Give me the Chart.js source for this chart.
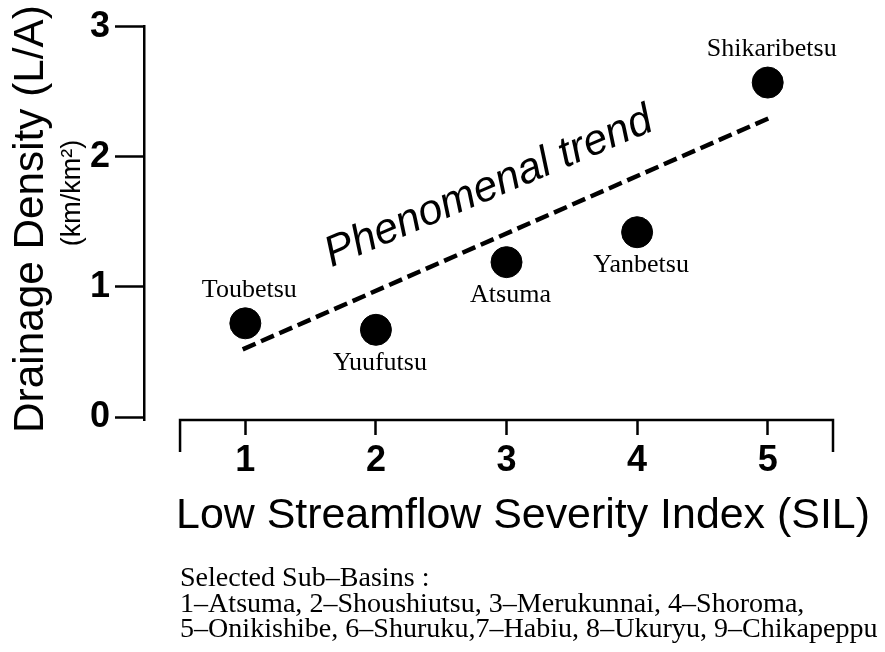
<!DOCTYPE html>
<html>
<head>
  <title>Drainage Density vs Low Streamflow Severity Index</title>
  <style>
    html, body { margin: 0; padding: 0; background: #fff; }
    #wrap { width: 885px; height: 652px; position: relative; }
  </style>
</head>
<body>
  <div id="wrap"><canvas id="chart"></canvas></div>

  <script src="https://cdn.jsdelivr.net/npm/chart.js@4.4.0/dist/chart.umd.min.js"></script>
  <script>
    // data
    var basins = ['Toubetsu', 'Yuufutsu', 'Atsuma', 'Yanbetsu', 'Shikaribetsu'];
    var sil = [1, 2, 3, 4, 5];
    var density = [0.72, 0.67, 1.19, 1.42, 2.57];
    var trendX = [0.98, 5.04];
    var trendY = [0.52, 2.31];
    var xTicks = [1, 2, 3, 4, 5];
    var yTicks = [0, 1, 2, 3];
    var xRange = [0.5, 5.5];
    var notes = [
      'Selected Sub\u2013Basins :',
      '1\u2013Atsuma, 2\u2013Shoushiutsu, 3\u2013Merukunnai, 4\u2013Shoroma,',
      '5\u2013Onikishibe, 6\u2013Shuruku,7\u2013Habiu, 8\u2013Ukuryu, 9\u2013Chikapeppu'
    ];

    var SANS = '"Liberation Sans", Arial, Helvetica, sans-serif';
    var SERIF = '"Liberation Serif", "Times New Roman", serif';

    // font size so that text is roughly targetWidth wide
    function fitFont(ctx, text, style, family, target) {
      ctx.font = style + ' 100px ' + family;
      var w = ctx.measureText(text).width;
      return 100 * target / w;
    }

    var extras = {
      id: 'extras',
      afterDraw: function(chart) {
        var ctx = chart.ctx, a = chart.chartArea;
        var xs = chart.scales.x, ys = chart.scales.y;
        ctx.save();
        ctx.fillStyle = '#000';
        ctx.strokeStyle = '#000';

        // x axis bracket
        var x0 = xs.getPixelForValue(xRange[0]), x1 = xs.getPixelForValue(xRange[1]);
        ctx.lineWidth = 2.5;
        ctx.beginPath();
        ctx.moveTo(x0, a.bottom + 32);
        ctx.lineTo(x0, a.bottom);
        ctx.lineTo(x1, a.bottom);
        ctx.lineTo(x1, a.bottom + 32);
        ctx.stroke();

        // y axis title (two lines)
        var t1 = 'Drainage Density (L/A)';
        ctx.save();
        ctx.translate(43, 219);
        ctx.rotate(-Math.PI / 2);
        ctx.font = fitFont(ctx, t1, 'normal', SANS, 428) + 'px ' + SANS;
        ctx.textAlign = 'center';
        ctx.textBaseline = 'alphabetic';
        ctx.fillText(t1, 0, 0);
        ctx.restore();

        var t2 = '(km/km\u00b2)';
        ctx.save();
        ctx.translate(80, 193);
        ctx.rotate(-Math.PI / 2);
        ctx.font = Math.min(27, fitFont(ctx, t2, 'normal', SANS, 108)) + 'px ' + SANS;
        ctx.textAlign = 'center';
        ctx.fillText(t2, 0, 0);
        ctx.restore();

        // x axis title
        var t3 = 'Low Streamflow Severity Index (SIL)';
        ctx.font = fitFont(ctx, t3, 'normal', SANS, 694) + 'px ' + SANS;
        ctx.textAlign = 'center';
        ctx.textBaseline = 'alphabetic';
        ctx.fillText(t3, 523, 528);

        // trend annotation
        var t4 = 'Phenomenal trend';
        ctx.save();
        ctx.translate(xs.getPixelForValue(2.9), ys.getPixelForValue(1.68));
        ctx.rotate(-23 * Math.PI / 180);
        ctx.font = 'italic ' + fitFont(ctx, t4, 'italic', SANS, 352) + 'px ' + SANS;
        ctx.textAlign = 'center';
        ctx.fillText(t4, 0, 0);
        ctx.restore();

        // point labels
        var side = ['above', 'below', 'below', 'below', 'above'];
        var meta = chart.getDatasetMeta(1);
        ctx.font = '26px ' + SERIF;
        ctx.textAlign = 'center';
        ctx.textBaseline = 'middle';
        meta.data.forEach(function(pt, i) {
          var dy = side[i] === 'above' ? -33 : 33;
          ctx.fillText(basins[i], pt.x + 4, pt.y + dy);
        });

        // notes below the chart
        var fs = fitFont(ctx, notes[2], 'normal', SERIF, 698);
        ctx.font = fs + 'px ' + SERIF;
        ctx.textAlign = 'left';
        ctx.textBaseline = 'alphabetic';
        var base = [586, 612, 637];
        notes.forEach(function(line, i) {
          ctx.fillText(line, 180, base[i]);
        });

        ctx.restore();
      }
    };

    var points = sil.map(function(v, i) { return { x: v, y: density[i] }; });
    var trend = trendX.map(function(v, i) { return { x: v, y: trendY[i] }; });

    new Chart(document.getElementById('chart'), {
      type: 'scatter',
      data: {
        datasets: [{
          type: 'line',
          label: 'Phenomenal trend',
          data: trend,
          borderColor: '#000',
          borderWidth: 4.5,
          borderDash: [14, 6],
          pointRadius: 0,
          fill: false,
          clip: false
        }, {
          label: 'Sub-basins',
          data: points,
          backgroundColor: '#000',
          borderColor: '#000',
          pointRadius: 15.5,
          pointHoverRadius: 15.5,
          clip: false
        }]
      },
      options: {
        responsive: true,
        maintainAspectRatio: false,
        devicePixelRatio: 1,
        animation: false,
        events: [],
        layout: { padding: { top: 25, right: 52, left: 0, bottom: 0 } },
        plugins: {
          legend: { display: false },
          tooltip: { enabled: false }
        },
        scales: {
          x: {
            type: 'linear',
            min: 0.224,
            max: 5.5,
            afterBuildTicks: function(scale) {
              scale.ticks = xTicks.map(function(v) { return { value: v }; });
            },
            afterFit: function(scale) { scale.height = 232; },
            border: { display: false },
            grid: {
              drawOnChartArea: false,
              drawTicks: true,
              tickLength: 15,
              tickWidth: 2.5,
              tickColor: '#000'
            },
            ticks: {
              color: '#000',
              padding: 4,
              maxRotation: 0,
              font: { family: SANS, size: 36, weight: 'bold' }
            }
          },
          y: {
            min: -0.023,
            max: 3,
            afterBuildTicks: function(scale) {
              scale.ticks = yTicks.map(function(v) { return { value: v }; });
            },
            afterFit: function(scale) { scale.width = 144; },
            border: { display: true, color: '#000', width: 2.5 },
            grid: {
              drawOnChartArea: false,
              drawTicks: true,
              tickLength: 29,
              tickWidth: 2.5,
              tickColor: '#000'
            },
            ticks: {
              color: '#000',
              padding: 5,
              font: { family: SANS, size: 36, weight: 'bold' }
            }
          }
        }
      },
      plugins: [extras]
    });
  </script>
</body>
</html>
